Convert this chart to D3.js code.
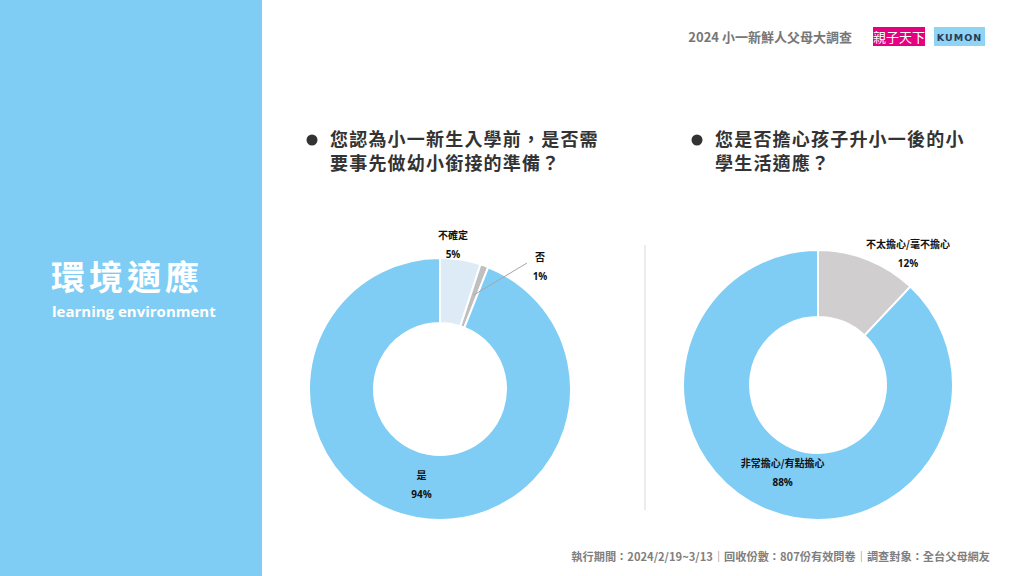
<!DOCTYPE html>
<html><head><meta charset="utf-8">
<script src="https://cdn.jsdelivr.net/npm/d3@7"></script>
<style>
html,body{margin:0;padding:0;background:#fff;}
svg{display:block;font-family:"Noto Sans CJK TC","Noto Sans",sans-serif;}
</style></head>
<body>
<svg id="c" width="1024" height="576"></svg>
<script>
// ---- data ----
const leftCategories = ["不確定", "否", "是"];
const leftValues = [5, 1, 94];
const rightCategories = ["不太擔心/毫不擔心", "非常擔心/有點擔心"];
const rightValues = [12, 88];
const leftQuestion = ["您認為小一新生入學前，是否需", "要事先做幼小銜接的準備？"];
const rightQuestion = ["您是否擔心孩子升小一後的小", "學生活適應？"];
const headerTitle = "2024 小一新鮮人父母大調查";
const footerText = "執行期間：2024/2/19~3/13｜回收份數：807份有效問卷｜調查對象：全台父母網友";
const sectionTitle = "環境適應";
const sectionSub = "learning environment";

// ---- styles / layout ----
const BLUE = "#7FCDF4";
const leftColors = ["#DDEBF7", "#BFBFBF", BLUE];
const rightColors = ["#D0CECE", BLUE];

const svg = d3.select("#c");
svg.append("rect").attr("x",0).attr("y",0).attr("width",262).attr("height",576).attr("fill",BLUE);
svg.append("text").attr("x",51).attr("y",290).attr("fill","#fff").attr("font-size",34).attr("letter-spacing",4).attr("font-weight",700).text(sectionTitle);
svg.append("text").attr("x",52).attr("y",317).attr("fill","#fff").attr("font-size",15).attr("font-weight",700)
  .attr("font-family","'Open Sans',sans-serif").text(sectionSub);

// header
svg.append("text").attr("x",852).attr("y",42).attr("text-anchor","end").attr("fill","#767676")
  .attr("font-size",13).attr("font-weight",700).text(headerTitle);
svg.append("rect").attr("x",873).attr("y",27).attr("width",52).attr("height",19).attr("fill","#E4007F");
svg.append("text").attr("x",899).attr("y",42).attr("text-anchor","middle").attr("fill","#fff")
  .attr("font-size",13).attr("font-weight",400).text("親子天下");
svg.append("rect").attr("x",934).attr("y",27).attr("width",51).attr("height",19).attr("fill","#8FD3F5");
svg.append("text").attr("x",959.5).attr("y",41).attr("text-anchor","middle").attr("fill","#2B3A55")
  .attr("font-size",9.5).attr("font-weight",700).attr("letter-spacing",1).attr("font-family","'DejaVu Sans',sans-serif").text("KUMON");

// questions
function question(x, lines){
  svg.append("circle").attr("cx",x).attr("cy",140).attr("r",5.5).attr("fill","#333");
  lines.forEach((l,i)=>{
    svg.append("text").attr("x",x+18).attr("y",146+i*24).attr("fill","#333")
      .attr("font-size",18).attr("letter-spacing",1.2).attr("font-weight",700).text(l);
  });
}
question(312, leftQuestion);
question(697, rightQuestion);

// separator
svg.append("line").attr("x1",645).attr("x2",645).attr("y1",245).attr("y2",510).attr("stroke","#D9D9D9").attr("stroke-width",1);

// donuts
function donut(cx, cy, rIn, rOut, cats, vals, colors){
  const pie = d3.pie().sort(null).value(d=>d)(vals);
  const arc = d3.arc().innerRadius(rIn).outerRadius(rOut);
  const g = svg.append("g").attr("transform",`translate(${cx},${cy})`);
  g.selectAll("path").data(pie).join("path").attr("d",arc)
    .attr("fill",(d,i)=>colors[i]).attr("stroke","#fff").attr("stroke-width",2);
  return {g, pie, arc};
}
function label(g, x, y, name, val){
  g.append("text").attr("x",x).attr("y",y).attr("text-anchor","middle").attr("font-size",10).attr("font-weight",700).attr("fill","#111").text(name);
  g.append("text").attr("x",x).attr("y",y+19).attr("text-anchor","middle").attr("font-size",10).attr("font-weight",700).attr("fill","#111")
    .attr("font-family","'Open Sans',sans-serif").text(val+"%");
}

const L = donut(440, 389, 66, 131, leftCategories, leftValues, leftColors);
// 否 leader line
{
  const d = L.pie[1];
  const a = (d.startAngle+d.endAngle)/2;
  const r0 = 100;
  L.g.append("line").attr("x1",r0*Math.sin(a)).attr("y1",-r0*Math.cos(a)).attr("x2",87).attr("y2",-126)
    .attr("stroke","#A6A6A6").attr("stroke-width",1);
}
label(L.g, 13, -150, leftCategories[0], leftValues[0]);
label(L.g, 100, -128, leftCategories[1], leftValues[1]);
{
  const c = L.arc.centroid(L.pie[2]);
  label(L.g, c[0], c[1]-7, leftCategories[2], leftValues[2]);
}

const R = donut(818, 385, 68, 135, rightCategories, rightValues, rightColors);
label(R.g, 90, -137, rightCategories[0], rightValues[0]);
{
  const c = R.arc.centroid(R.pie[1]);
  label(R.g, c[0]+2, c[1]-12, rightCategories[1], rightValues[1]);
}

// footer
svg.append("text").attr("x",990).attr("y",561).attr("text-anchor","end").attr("fill","#7F7F7F")
  .attr("font-size",11.2).attr("font-weight",700).text(footerText);
</script>
</body></html>
